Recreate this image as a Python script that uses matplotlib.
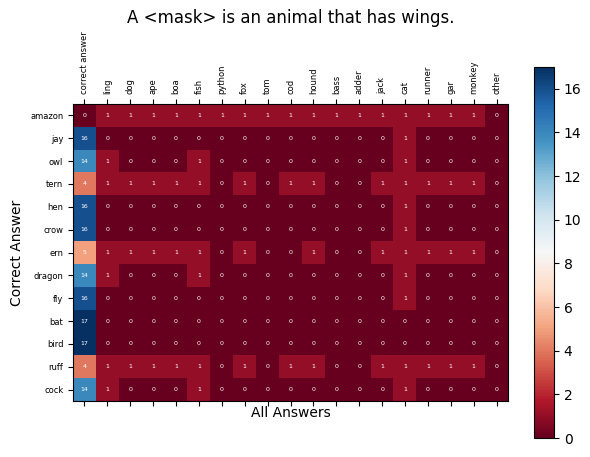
import numpy as np
import matplotlib
matplotlib.use("Agg")
import matplotlib.pyplot as plt

# row / column labels
correct_answers = ["amazon", "jay", "owl", "tern", "hen", "crow", "ern",
                   "dragon", "fly", "bat", "bird", "ruff", "cock"]
all_answers = ["correct answer", "ling", "dog", "ape", "boa", "fish", "python",
               "fox", "tom", "cod", "hound", "bass", "adder", "jack", "cat",
               "runner", "gar", "monkey", "other"]

# counts per row (same column order as all_answers)
amazon = [0, 1, 1, 1, 1, 1, 1, 1, 1, 1, 1, 1, 1, 1, 1, 1, 1, 1, 0]
jay    = [16, 0, 0, 0, 0, 0, 0, 0, 0, 0, 0, 0, 0, 0, 1, 0, 0, 0, 0]
owl    = [14, 1, 0, 0, 0, 1, 0, 0, 0, 0, 0, 0, 0, 0, 1, 0, 0, 0, 0]
tern   = [4, 1, 1, 1, 1, 1, 0, 1, 0, 1, 1, 0, 0, 1, 1, 1, 1, 1, 0]
hen    = [16, 0, 0, 0, 0, 0, 0, 0, 0, 0, 0, 0, 0, 0, 1, 0, 0, 0, 0]
crow   = [16, 0, 0, 0, 0, 0, 0, 0, 0, 0, 0, 0, 0, 0, 1, 0, 0, 0, 0]
ern    = [5, 1, 1, 1, 1, 1, 0, 1, 0, 0, 1, 0, 0, 1, 1, 1, 1, 1, 0]
dragon = [14, 1, 0, 0, 0, 1, 0, 0, 0, 0, 0, 0, 0, 0, 1, 0, 0, 0, 0]
fly    = [16, 0, 0, 0, 0, 0, 0, 0, 0, 0, 0, 0, 0, 0, 1, 0, 0, 0, 0]
bat    = [17, 0, 0, 0, 0, 0, 0, 0, 0, 0, 0, 0, 0, 0, 0, 0, 0, 0, 0]
bird   = [17, 0, 0, 0, 0, 0, 0, 0, 0, 0, 0, 0, 0, 0, 0, 0, 0, 0, 0]
ruff   = [4, 1, 1, 1, 1, 1, 0, 1, 0, 1, 1, 0, 0, 1, 1, 1, 1, 1, 0]
cock   = [14, 1, 0, 0, 0, 1, 0, 0, 0, 0, 0, 0, 0, 0, 1, 0, 0, 0, 0]

counts = np.array([amazon, jay, owl, tern, hen, crow, ern,
                   dragon, fly, bat, bird, ruff, cock])

fig = plt.figure(figsize=(5.9, 4.57), dpi=100)
ax = fig.add_axes([73/590, 56/457, 435/590, 297/457])
cax = fig.add_axes([534/590, 19/457, 20/590, 371/457])

im = ax.imshow(counts, cmap="RdBu", vmin=0, vmax=17, aspect="auto")

ax.set_xticks(np.arange(len(all_answers)))
ax.set_yticks(np.arange(len(correct_answers)))
ax.set_xticklabels(all_answers, rotation=90, fontsize=6)
ax.set_yticklabels(correct_answers, fontsize=6)
ax.tick_params(top=True, labeltop=True, bottom=True, labelbottom=False)

#write the counts into each cell
for i in range(counts.shape[0]):
    for j in range(counts.shape[1]):
        ax.text(j, i, counts[i, j], ha="center", va="center",
                color="w", fontsize=4.5)

ax.set_xlabel("All Answers", labelpad=0)
ax.set_ylabel("Correct Answer")
ax.set_title("A <mask> is an animal that has wings.")

fig.colorbar(im, cax=cax, ticks=range(0, 17, 2))

plt.savefig("out.png")
